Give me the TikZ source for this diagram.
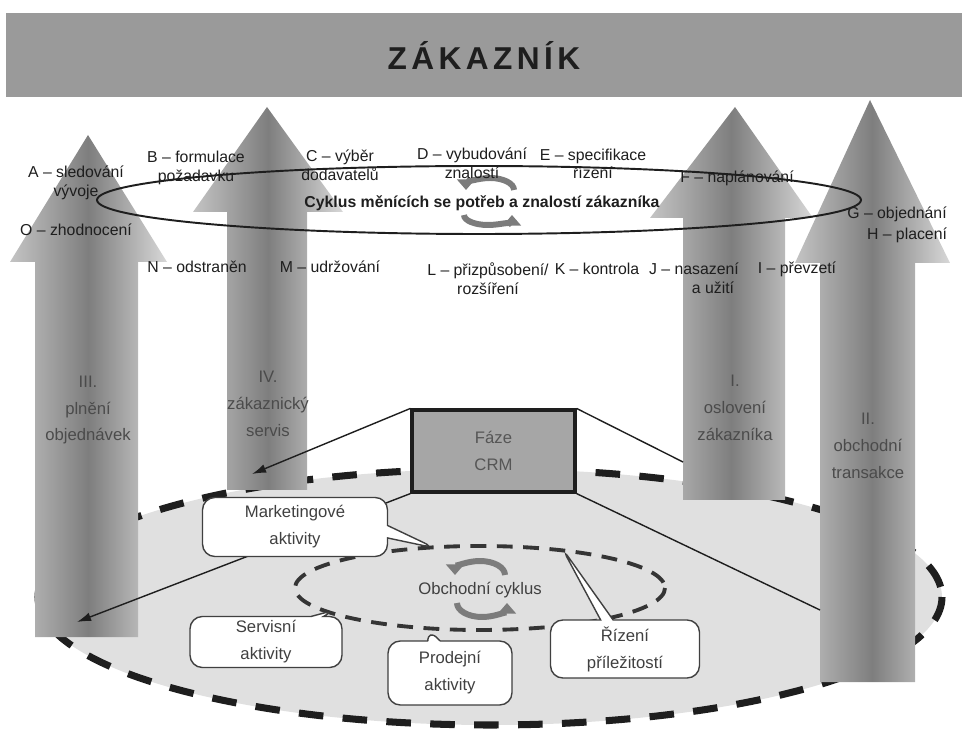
\documentclass[tikz,border=0pt]{standalone}
\usepackage{fontspec}
\setmainfont{Liberation Sans}
\usetikzlibrary{positioning}
\usetikzlibrary{arrows.meta}
\usetikzlibrary{shapes.callouts}
\usetikzlibrary{calc}
\definecolor{pBanner}{HTML}{9A9A9A}
\definecolor{pText}{HTML}{1E1E1E}
\definecolor{pArrLight}{HTML}{C4C4C4}
\definecolor{pArrDark}{HTML}{7E7E7E}
\definecolor{pArrEdge}{HTML}{D8D8D8}
\definecolor{pFloor}{HTML}{E0E0E0}
\definecolor{pBox}{HTML}{A6A6A6}
\definecolor{pCycle}{HTML}{7C7C7C}

\tikzset{
  banner/.style={fill=pBanner, minimum width=19.12cm, minimum height=1.68cm,
    text=pText, font=\bfseries\fontsize{18}{20}\selectfont},
  lbl/.style={font=\fontsize{9}{10.6}\selectfont, text=pText, align=center, inner sep=0pt},
  phase/.style={font=\fontsize{9.5}{15.3}\selectfont, text=pText!80, align=center, inner sep=0pt},
  floor/.style={fill=pFloor, draw=pText, line width=4pt, dash pattern=on 14pt off 11pt},
  cycleline/.style={draw=pText!90, line width=2.2pt, dash pattern=on 9pt off 6pt},
  cyclearr/.style={draw=pCycle, line width=3.4pt, -{Triangle[length=6pt, width=10pt]}},
  crmbox/.style={draw=pText, line width=1.8pt, fill=pBox, minimum width=3.26cm,
    minimum height=1.64cm, align=center, text=pText!75,
    font=\fontsize{9.5}{15.3}\selectfont},
  bubble/.style={rectangle callout, draw=pText!85, fill=white, line width=0.8pt,
    rounded corners=7pt, align=center, text=pText!85, inner sep=0pt,
    font=\fontsize{9.5}{15.3}\selectfont},
  link/.style={draw=pText, line width=0.8pt}
}
\newcommand{\ls}{\hspace{.14em}}

\begin{document}
\begin{tikzpicture}[x=0.02cm, y=-0.02cm]
  \useasboundingbox (0,0) rectangle (964,736);

  \node[banner] (customer) at (484,55) {Z\ls Á\ls K\ls A\ls Z\ls N\ls Í\ls K};

  % floor of the CRM phases
  \path[floor] (490,597) ellipse [x radius=452, y radius=128];

  % four phase arrows
  \foreach \tx/\ty/\hb/\hl/\hr/\sl/\sr/\bt in {88/135/262/10/167/35/138/637,
      267/107/212/193/343/227/307/490, 735/107/218/650/813/683/785/500,
      870/100/263/795/950/820/915/682}
    \shade[left color=pArrLight, right color=pArrEdge, middle color=pArrDark]
      (\sl,\bt) -- (\sl,\hb) -- (\hl,\hb) -- (\tx,\ty) -- (\hr,\hb) -- (\sr,\hb) -- (\sr,\bt) -- cycle;

  \node[phase] (phase3) at (88,410) {III.\\plnění\\objednávek};
  \node[phase] (phase4) at (268,404) {IV.\\zákaznický\\servis};
  \node[phase] (phase1) at (735,408) {I.\\oslovení\\zákazníka};
  \node[phase] (phase2) at (868,446) {II.\\obchodní\\transakce};

  % cycle of customer needs
  \draw[line width=1.1pt, pText] (479,200) ellipse [x radius=382, y radius=34];
  \node[lbl, font=\bfseries\fontsize{9}{10.4}\selectfont] (needs) at (482,203)
    {Cyklus měnících se potřeb a znalostí zákazníka};
  \draw[cyclearr] (514,190) arc [start angle=0, end angle=-180, x radius=24, y radius=12];
  \draw[cyclearr] (464,215) arc [start angle=180, end angle=0, x radius=24, y radius=10];

  \node[lbl] (stepA) at (76,183) {A -- sledování\\vývoje};
  \node[lbl] (stepB) at (196,168) {B -- formulace\\požadavku};
  \node[lbl] (stepC) at (340,165) {C -- výběr\\dodavatelů};
  \node[lbl] (stepD) at (472,163) {D -- vybudování\\znalostí};
  \node[lbl] (stepE) at (593,164) {E -- specifikace\\řízení};
  \node[lbl] (stepF) at (737,178) {F -- naplánování};
  \node[lbl] (stepG) at (897,214) {G -- objednání};
  \node[lbl] (stepH) at (907,235) {H -- placení};
  \node[lbl] (stepI) at (797,269) {I -- převzetí};
  \node[lbl] (stepJ) at (694,278) {J -- nasazení\\\hspace*{2.4em}a užití};
  \node[lbl] (stepK) at (597,269) {K -- kontrola};
  \node[lbl] (stepL) at (488,279) {L -- přizpůsobení/\\rozšíření};
  \node[lbl] (stepM) at (330,267) {M -- udržování};
  \node[lbl] (stepN) at (197,267) {N -- odstraněn};
  \node[lbl] (stepO) at (76,230) {O -- zhodnocení};

  % business cycle
  \draw[cycleline] (480,588) ellipse [x radius=185, y radius=42];
  \node[phase, text=pText!85] (business) at (480,590) {Obchodní cyklus};
  \draw[cyclearr] (505,575) arc [start angle=0, end angle=-180, x radius=25, y radius=14];
  \draw[cyclearr] (457,603) arc [start angle=180, end angle=0, x radius=25, y radius=14];

  \node[crmbox] (crm) at (493.5,451) {Fáze\\CRM};

  \coordinate (shaft4) at (252,474);
  \coordinate (shaft3) at (77,622);
  \coordinate (shaft1) at (683,462);
  \coordinate (shaft2) at (820,610);
  \draw[link, -{Latex[length=8pt, width=5pt]}] (crm.north west) -- (shaft4);
  \draw[link, -{Latex[length=8pt, width=5pt]}] (crm.south west) -- (shaft3);
  \draw[link] (crm.north east) -- (shaft1);
  \draw[link] (crm.south east) -- (shaft2);

  % activities
  \coordinate (mktTip) at (435,548);
  \coordinate (srvTip) at (335,610);
  \coordinate (saleTip) at (428,629);
  \coordinate (oppTip) at (562,548);
  \node[bubble, minimum width=3.7cm, minimum height=1.18cm,
    callout absolute pointer={(mktTip)}] (marketing) at (295,527) {Marketingové\\aktivity};
  \node[bubble, minimum width=3.04cm, minimum height=1.02cm,
    callout absolute pointer={(srvTip)}] (service) at (266,642) {Servisní\\aktivity};
  \node[bubble, minimum width=2.48cm, minimum height=1.28cm,
    callout absolute pointer={(saleTip)}] (sales) at (450,673) {Prodejní\\aktivity};
  \node[bubble, minimum width=2.98cm, minimum height=1.16cm,
    callout absolute pointer={(oppTip)}] (opport) at (625,649) {Řízení\\příležitostí};
\end{tikzpicture}
\end{document}
